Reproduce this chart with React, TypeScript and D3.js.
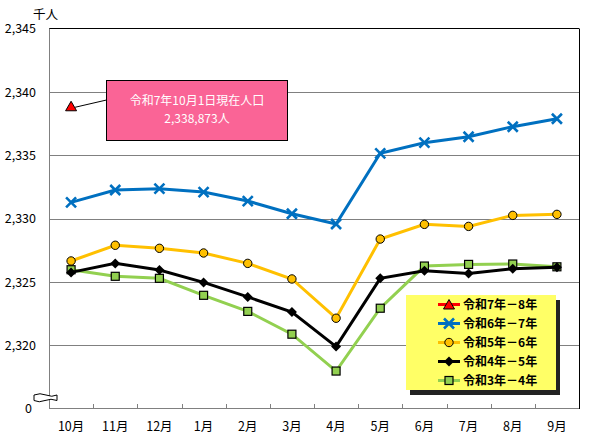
import React from "react";
import * as d3 from "d3";

const months = ["10月", "11月", "12月", "1月", "2月", "3月", "4月", "5月", "6月", "7月", "8月", "9月"];
const yTicks = [2320, 2325, 2330, 2335, 2340, 2345];

const r7 = [2338.873];
const r6 = [2331.29, 2332.26, 2332.37, 2332.1, 2331.39, 2330.39, 2329.58, 2335.16, 2336.0, 2336.47, 2337.26, 2337.89];
const r5 = [2326.66, 2327.9, 2327.66, 2327.29, 2326.47, 2325.24, 2322.14, 2328.39, 2329.55, 2329.39, 2330.26, 2330.34];
const r4 = [2325.76, 2326.47, 2325.95, 2324.97, 2323.82, 2322.63, 2319.9, 2325.29, 2325.89, 2325.68, 2326.05, 2326.16];
const r3 = [2325.97, 2325.45, 2325.29, 2323.95, 2322.68, 2320.88, 2317.97, 2322.93, 2326.26, 2326.39, 2326.42, 2326.2];

const legendLabels = ["令和7年－8年", "令和6年－7年", "令和5年－6年", "令和4年－5年", "令和3年－4年"];
const calloutLines = ["令和7年10月1日現在人口", "2,338,873人"];

type Kind = "tri" | "x" | "circle" | "diamond" | "square";
const series: { name: string; data: number[]; color: string; kind: Kind }[] = [
  { name: legendLabels[4], data: r3, color: "#92D050", kind: "square" },
  { name: legendLabels[3], data: r4, color: "#000000", kind: "diamond" },
  { name: legendLabels[2], data: r5, color: "#FFC000", kind: "circle" },
  { name: legendLabels[1], data: r6, color: "#0070C0", kind: "x" },
  { name: legendLabels[0], data: r7, color: "#FF0000", kind: "tri" },
];

const FONT = "'Noto Sans CJK JP', 'Noto Sans', sans-serif";

function Marker({ kind, cx, cy, color }: { kind: Kind; cx: number; cy: number; color: string }) {
  switch (kind) {
    case "tri":
      return <path d={`M${cx},${cy - 5}L${cx + 5.5},${cy + 4.5}L${cx - 5.5},${cy + 4.5}Z`} fill="#FF0000" stroke="#000" strokeWidth={1} />;
    case "x":
      return (
        <path d={`M${cx - 5},${cy - 5}L${cx + 5},${cy + 5}M${cx - 5},${cy + 5}L${cx + 5},${cy - 5}`} stroke={color} strokeWidth={2.6} fill="none" />
      );
    case "circle":
      return <circle cx={cx} cy={cy} r={4.2} fill="#FFC000" stroke="#000" strokeWidth={1} />;
    case "diamond":
      return <path d={`M${cx},${cy - 5}L${cx + 5},${cy}L${cx},${cy + 5}L${cx - 5},${cy}Z`} fill="#000" />;
    case "square":
      return <rect x={cx - 4} y={cy - 4} width={8} height={8} fill="#92D050" stroke="#000" strokeWidth={1.2} />;
  }
}

export default function App() {
  const left = 49, right = 579, top = 28.67, bottom = 408.67;
  const x = d3.scaleBand<string>().domain(months).range([left, right]);
  const cx = (i: number) => (x(months[i]) as number) + x.bandwidth() / 2;
  const y = d3.scaleLinear().domain([2315, 2345]).range([bottom, top]);
  const line = d3
    .line<number>()
    .x((_, i) => cx(i))
    .y((d) => y(d));

  const legendX = 406, legendY = 295, legendW = 150, legendH = 95;
  const boxX = 106.5, boxY = 80.5, boxW = 181, boxH = 60;

  return (
    <svg width={589} height={441} style={{ position: "absolute", left: 0, top: 0, background: "#fff" }} fontFamily={FONT}>
      <rect x={0} y={0} width={589} height={441} fill="#fff" />
      {/* gridlines */}
      {yTicks.slice(0, -1).map((t) => (
        <line key={t} x1={left} x2={right} y1={Math.round(y(t)) + 0.5} y2={Math.round(y(t)) + 0.5} stroke="#808080" strokeWidth={1} />
      ))}
      {/* frame */}
      <line x1={left} x2={right} y1={28.5} y2={28.5} stroke="#000" />
      <line x1={right + 0.5} x2={right + 0.5} y1={28.5} y2={409} stroke="#000" />
      <line x1={left + 0.5} x2={left + 0.5} y1={28.5} y2={409} stroke="#808080" />
      <line x1={left} x2={right} y1={408.5} y2={408.5} stroke="#808080" />
      {months.slice(1).map((m) => (
        <line key={m} x1={Math.round(x(m) as number) + 0.5} x2={Math.round(x(m) as number) + 0.5} y1={404} y2={409} stroke="#808080" />
      ))}
      {/* axis break */}
      <path d="M34,395 Q40,392.5 46,395 T57,395 L57,400.5 Q51,398 45,400.5 T34,400.5 Z" fill="#fff" stroke="#000" strokeWidth={1} />
      {/* y labels */}
      {yTicks.map((t) => (
        <text key={t} x={36} y={y(t) + 4.5} textAnchor="end" fontSize={12.5} fill="#000">
          {d3.format(",")(t)}
        </text>
      ))}
      <text x={32} y={413} textAnchor="end" fontSize={12.5}>0</text>
      <text x={33} y={19} fontSize={12.5}>千人</text>
      {/* x labels */}
      {months.map((m, i) => (
        <text key={m} x={cx(i)} y={431} textAnchor="middle" fontSize={12.5}>
          {m}
        </text>
      ))}
      {/* series */}
      {series.map((s) => (
        <g key={s.name}>
          {s.data.length > 1 && <path d={line(s.data) || ""} fill="none" stroke={s.color} strokeWidth={3} />}
          {s.data.map((v, i) => (
            <Marker key={i} kind={s.kind} cx={cx(i)} cy={y(v)} color={s.color} />
          ))}
        </g>
      ))}
      {/* callout */}
      <line x1={cx(0) + 4} y1={y(r7[0]) + 1} x2={boxX} y2={100} stroke="#000" strokeWidth={1} />
      <rect x={boxX} y={boxY} width={boxW} height={boxH} fill="#FA6496" stroke="#000" strokeWidth={1} />
      {calloutLines.map((t, i) => (
        <text key={t} x={boxX + boxW / 2} y={105 + i * 17.6} textAnchor="middle" fontSize={12} fill="#fff">
          {t}
        </text>
      ))}
      {/* legend */}
      <rect x={legendX + 4} y={legendY + 5} width={legendW} height={legendH} fill="#222" />
      <rect x={legendX} y={legendY} width={legendW} height={legendH} fill="#FFFF66" />
      {[...series].reverse().map((s, i) => {
        const ly = 304.5 + i * 19;
        return (
          <g key={s.name}>
            <line x1={438} x2={460} y1={ly} y2={ly} stroke={s.color} strokeWidth={3} />
            <Marker kind={s.kind} cx={449} cy={ly} color={s.color} />
            <text x={463} y={ly + 4.5} fontSize={12} fontWeight="bold" fill="#000">
              {s.name}
            </text>
          </g>
        );
      })}
    </svg>
  );
}
